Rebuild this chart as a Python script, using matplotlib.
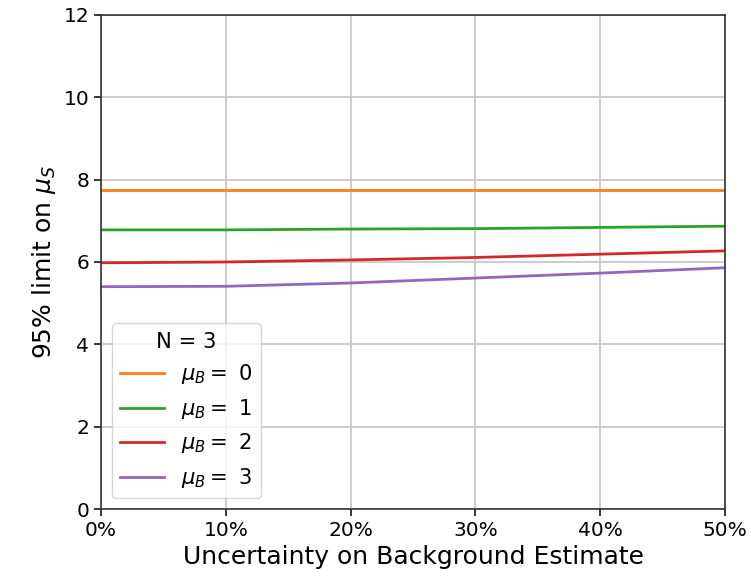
import numpy as np
import matplotlib
matplotlib.use('Agg')
import matplotlib.pyplot as plt
from matplotlib.ticker import PercentFormatter

# fractional uncertainty on the background estimate
uncertainty = [0.0, 0.1, 0.2, 0.3, 0.4, 0.5]

n_obs = 3
mu_b_values = [0, 1, 2, 3]

# 95% upper limits on mu_S for each background mean
limit_b0 = [7.76, 7.76, 7.76, 7.76, 7.76, 7.76]
limit_b1 = [6.78, 6.78, 6.80, 6.81, 6.84, 6.87]
limit_b2 = [5.98, 6.00, 6.05, 6.11, 6.19, 6.27]
limit_b3 = [5.40, 5.41, 5.49, 5.61, 5.73, 5.86]
limits = [limit_b0, limit_b1, limit_b2, limit_b3]

colors = ['C1', 'C2', 'C3', 'C4']

fig, ax = plt.subplots(figsize=(7.51, 5.76), dpi=100)
fig.subplots_adjust(left=0.1345, right=0.9654, top=0.974, bottom=0.1163)

for mu_b, lim, c in zip(mu_b_values, limits, colors):
    ax.plot(uncertainty, lim, color=c, lw=2.0, label=rf'$\mu_B = $ {mu_b}')

ax.set_xlim(0, 0.5)
ax.set_ylim(0, 12)
ax.xaxis.set_major_formatter(PercentFormatter(xmax=1, decimals=0))
ax.tick_params(labelsize=14.5, width=1.1, length=5)
ax.grid(True, color='#c8c8c8', lw=1.3)
for sp in ax.spines.values():
    sp.set_linewidth(1.2)
    sp.set_color('#333333')

ax.set_xlabel('Uncertainty on Background Estimate', fontsize=18)
ax.set_ylabel(r'95% limit on $\mu_S$', fontsize=18)

leg = ax.legend(title=f'N = {n_obs}', loc='lower left', fontsize=15.2, title_fontsize=15.2,
                handlelength=2.1)

fig.savefig('out.png')
